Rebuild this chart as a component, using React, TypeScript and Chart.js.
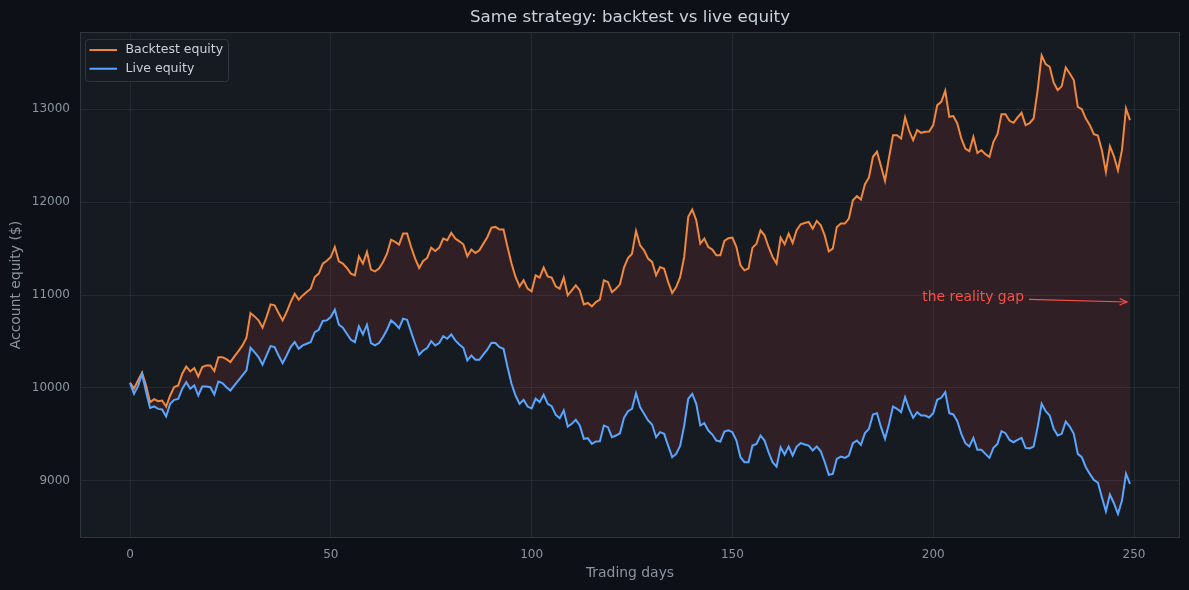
import { useEffect, useRef } from "react";
import { Chart, registerables } from "chart.js";

Chart.register(...registerables);

const FONT = '"DejaVu Sans", "Noto Sans", sans-serif';

const days: number[] = Array.from({ length: 250 }, (_, i) => i);

const backtestEquity: number[] = [
  10056, 9995, 10081, 10165, 10027, 9847, 9880, 9858, 9865, 9801,
  9919, 10009, 10027, 10153, 10232, 10178, 10214, 10124, 10225, 10243,
  10243, 10182, 10332, 10332, 10310, 10279, 10340, 10397, 10458, 10541,
  10807, 10771, 10728, 10649, 10764, 10900, 10890, 10807, 10728, 10818,
  10925, 11015, 10951, 10997, 11033, 11069, 11195, 11231, 11339, 11370,
  11410, 11518, 11364, 11339, 11292, 11231, 11213, 11418, 11339, 11464,
  11274, 11256, 11285, 11357, 11446, 11597, 11572, 11543, 11662, 11662,
  11518, 11393, 11292, 11367, 11400, 11511, 11475, 11511, 11608, 11590,
  11669, 11608, 11579, 11547, 11418, 11490, 11454, 11482, 11554, 11626,
  11727, 11734, 11705, 11705, 11518, 11339, 11195, 11094, 11159, 11070,
  11040, 11213, 11188, 11296, 11202, 11188, 11094, 11069, 11188, 10997,
  11051, 11105, 11051, 10900, 10915, 10879, 10925, 10951, 11159, 11141,
  11033, 11069, 11116, 11296, 11400, 11446, 11691, 11536, 11482, 11393,
  11357, 11213, 11303, 11285, 11141, 11023, 11087, 11195, 11411, 11842,
  11921, 11806, 11554, 11608, 11518, 11490, 11428, 11428, 11583, 11612,
  11619, 11518, 11321, 11267, 11285, 11511, 11554, 11698, 11644, 11518,
  11411, 11339, 11619, 11547, 11662, 11561, 11698, 11763, 11777, 11788,
  11716, 11799, 11752, 11640, 11470, 11500, 11734, 11770, 11770, 11824,
  12021, 12065, 12029, 12194, 12266, 12489, 12543, 12388, 12230, 12481,
  12722, 12722, 12686, 12913, 12769, 12668, 12776, 12747, 12758, 12762,
  12830, 13045, 13081, 13200, 12919, 12927, 12848, 12686, 12578, 12549,
  12704, 12531, 12560, 12517, 12488, 12650, 12733, 12948, 12948, 12876,
  12855, 12912, 12962, 12830, 12850, 12901, 13207, 13580, 13487, 13458,
  13286, 13207, 13250, 13451, 13386, 13315, 13027, 13002, 12901, 12830,
  12733, 12718, 12560, 12327, 12603, 12495, 12345, 12560, 13009, 12884,
];

const liveEquity: number[] = [
  10056, 9937, 10020, 10150, 9960, 9786, 9801, 9775, 9768, 9693,
  9830, 9872, 9883, 9991, 10063, 9991, 10027, 9919, 10016, 10016,
  10009, 9930, 10070, 10052, 10009, 9973, 10027, 10081, 10135, 10189,
  10433, 10386, 10333, 10250, 10350, 10451, 10440, 10350, 10268, 10350,
  10440, 10494, 10422, 10458, 10476, 10494, 10602, 10627, 10721, 10728,
  10764, 10843, 10681, 10649, 10584, 10519, 10494, 10663, 10577, 10681,
  10484, 10458, 10484, 10548, 10627, 10728, 10692, 10645, 10746, 10735,
  10602, 10476, 10358, 10404, 10430, 10505, 10458, 10484, 10559, 10530,
  10577, 10512, 10469, 10433, 10297, 10350, 10304, 10304, 10361, 10415,
  10487, 10484, 10440, 10422, 10225, 10045, 9919, 9829, 9873, 9800,
  9780, 9884, 9848, 9927, 9830, 9805, 9711, 9675, 9758, 9585,
  9614, 9657, 9596, 9452, 9460, 9398, 9424, 9427, 9596, 9578,
  9470, 9488, 9513, 9679, 9750, 9776, 9944, 9794, 9722, 9650,
  9607, 9470, 9524, 9506, 9380, 9255, 9290, 9380, 9596, 9884,
  9937, 9830, 9596, 9621, 9542, 9499, 9434, 9423, 9531, 9545,
  9524, 9434, 9255, 9201, 9201, 9380, 9398, 9488, 9434, 9308,
  9201, 9154, 9362, 9284, 9370, 9273, 9370, 9406, 9391, 9380,
  9327, 9370, 9319, 9201, 9065, 9075, 9237, 9262, 9248, 9273,
  9406, 9434, 9388, 9514, 9560, 9715, 9729, 9578, 9452, 9614,
  9801, 9776, 9740, 9902, 9776, 9679, 9740, 9704, 9704, 9683,
  9729, 9873, 9894, 9955, 9729, 9715, 9643, 9506, 9406, 9370,
  9463, 9334, 9334, 9291, 9248, 9355, 9398, 9535, 9513, 9441,
  9416, 9441, 9463, 9355, 9350, 9369, 9578, 9830, 9750, 9704,
  9560, 9488, 9506, 9639, 9585, 9506, 9291, 9255, 9147, 9075,
  9010, 8982, 8824, 8672, 8852, 8759, 8644, 8788, 9075, 8967,
];

const xTicks: number[] = [0, 50, 100, 150, 200, 250];
const yTicks: number[] = [9000, 10000, 11000, 12000, 13000];
const seriesNames: string[] = ["Backtest equity", "Live equity"];
const titleText = "Same strategy: backtest vs live equity";
const xTitle = "Trading days";
const yTitle = "Account equity ($)";
const annotationText = "the reality gap";
const annotationTextPoint = [197.3, 10975];
const annotationArrowPoint = [249, 10925];

const ORANGE = "#f0883e";
const BLUE = "#58a6ff";
const RED = "#f85149";
const GRID = "rgba(48,54,61,0.6)";
const SPINE = "#30363d";
const TICK = "#8b949e";
const TEXT = "#c9d1d9";

const decorPlugin = {
  id: "decor",
  beforeDraw(chart: any) {
    const { ctx, chartArea: a, width, height } = chart;
    ctx.save();
    ctx.fillStyle = "#0d1117";
    ctx.fillRect(0, 0, width, height);
    ctx.fillStyle = "#161b22";
    ctx.fillRect(a.left, a.top, a.right - a.left, a.bottom - a.top);
    ctx.restore();
  },
  afterDatasetsDraw(chart: any) {
    const { ctx } = chart;
    const xs = chart.scales.x;
    const ys = chart.scales.y;
    ctx.save();
    ctx.font = `13.9px ${FONT}`;
    ctx.fillStyle = RED;
    ctx.textBaseline = "middle";
    ctx.textAlign = "left";
    const tx = xs.getPixelForValue(annotationTextPoint[0]);
    const ty = ys.getPixelForValue(annotationTextPoint[1]);
    ctx.fillText(annotationText, tx, ty);
    const tw = ctx.measureText(annotationText).width;
    const sx = tx + tw + 5;
    const sy = ty + 2;
    const ex0 = xs.getPixelForValue(annotationArrowPoint[0]);
    const ey0 = ys.getPixelForValue(annotationArrowPoint[1]);
    const ang = Math.atan2(ey0 - sy, ex0 - sx);
    const ex = ex0 - 3 * Math.cos(ang);
    const ey = ey0 - 3 * Math.sin(ang);
    ctx.strokeStyle = RED;
    ctx.lineWidth = 1.2;
    ctx.beginPath();
    ctx.moveTo(sx, sy);
    ctx.lineTo(ex, ey);
    ctx.stroke();
    const hl = 8;
    const hw = 0.42;
    ctx.beginPath();
    ctx.moveTo(ex - hl * Math.cos(ang - hw), ey - hl * Math.sin(ang - hw));
    ctx.lineTo(ex, ey);
    ctx.lineTo(ex - hl * Math.cos(ang + hw), ey - hl * Math.sin(ang + hw));
    ctx.stroke();
    ctx.restore();
  },
  afterDraw(chart: any) {
    const { ctx, chartArea: a } = chart;
    ctx.save();
    ctx.strokeStyle = SPINE;
    ctx.lineWidth = 1;
    ctx.strokeRect(a.left + 0.5, a.top + 0.5, a.right - a.left - 1, a.bottom - a.top - 1);

    // legend
    const lx = a.left + 5;
    const ly = a.top + 7;
    const lw = 143;
    const lh = 42;
    ctx.beginPath();
    if (ctx.roundRect) ctx.roundRect(lx + 0.5, ly + 0.5, lw, lh, 3);
    else ctx.rect(lx + 0.5, ly + 0.5, lw, lh);
    ctx.fillStyle = "rgba(22,27,34,0.85)";
    ctx.fill();
    ctx.strokeStyle = SPINE;
    ctx.stroke();
    const colors = [ORANGE, BLUE];
    ctx.font = `12.5px ${FONT}`;
    ctx.textBaseline = "middle";
    ctx.textAlign = "left";
    seriesNames.forEach((name, i) => {
      const y = ly + 11 + i * 18.7;
      ctx.strokeStyle = colors[i];
      ctx.lineWidth = 2;
      ctx.beginPath();
      ctx.moveTo(lx + 4.5, y);
      ctx.lineTo(lx + 32, y);
      ctx.stroke();
      ctx.fillStyle = TEXT;
      ctx.fillText(name, lx + 40.5, y);
    });
    ctx.restore();
  },
};

export default function App() {
  const ref = useRef<HTMLCanvasElement>(null);
  useEffect(() => {
    document.body.style.margin = "0";
    document.body.style.background = "#0d1117";
    const chart = new Chart(ref.current as HTMLCanvasElement, {
      type: "line",
      data: {
        datasets: [
          {
            label: seriesNames[0],
            data: backtestEquity.map((v, i) => ({ x: days[i], y: v })),
            borderColor: ORANGE,
            borderWidth: 2,
            pointRadius: 0,
            tension: 0,
            fill: "+1",
            backgroundColor: "rgba(239,68,68,0.12)",
            order: 1,
          },
          {
            label: seriesNames[1],
            data: liveEquity.map((v, i) => ({ x: days[i], y: v })),
            borderColor: BLUE,
            borderWidth: 2,
            pointRadius: 0,
            tension: 0,
            fill: false,
            order: 0,
          },
        ],
      },
      options: {
        animation: false,
        responsive: false,
        devicePixelRatio: 1,
        events: [],
        layout: { padding: { left: 0, right: 9, top: 0, bottom: 0 } },
        plugins: {
          legend: { display: false },
          tooltip: { enabled: false },
          title: {
            display: true,
            text: titleText,
            color: TEXT,
            fullSize: false,
            font: { family: FONT, size: 16.7, weight: "normal" },
            padding: { top: 8, bottom: 4 },
          },
        },
        scales: {
          x: {
            type: "linear",
            min: -12.45,
            max: 261.45,
            afterBuildTicks: (s: any) => {
              s.ticks = xTicks.map((v) => ({ value: v }));
            },
            afterFit: (s: any) => {
              s.height = 52;
            },
            grid: { color: GRID, drawTicks: false, lineWidth: 1 },
            border: { display: false },
            ticks: {
              color: TICK,
              padding: 10,
              font: { family: FONT, size: 12 },
              maxRotation: 0,
              callback: (v: any) => String(v),
            },
            title: {
              display: true,
              text: xTitle,
              color: TICK,
              font: { family: FONT, size: 13.9 },
              padding: { top: 0, bottom: 8.7 },
            },
          },
          y: {
            type: "linear",
            min: 8385,
            max: 13832,
            afterBuildTicks: (s: any) => {
              s.ticks = yTicks.map((v) => ({ value: v }));
            },
            afterFit: (s: any) => {
              s.width = 80;
            },
            grid: { color: GRID, drawTicks: false, lineWidth: 1 },
            border: { display: false },
            ticks: {
              color: TICK,
              padding: 10,
              font: { family: FONT, size: 12 },
              callback: (v: any) => String(v),
            },
            title: {
              display: true,
              text: yTitle,
              color: TICK,
              font: { family: FONT, size: 13.9 },
              padding: { top: 7.7, bottom: 0 },
            },
          },
        },
      },
      plugins: [decorPlugin],
    } as any);
    return () => chart.destroy();
  }, []);
  return (
    <div style={{ width: 1189, height: 590, background: "#0d1117" }}>
      <canvas ref={ref} width={1189} height={590} style={{ display: "block", width: 1189, height: 590 }} />
    </div>
  );
}
